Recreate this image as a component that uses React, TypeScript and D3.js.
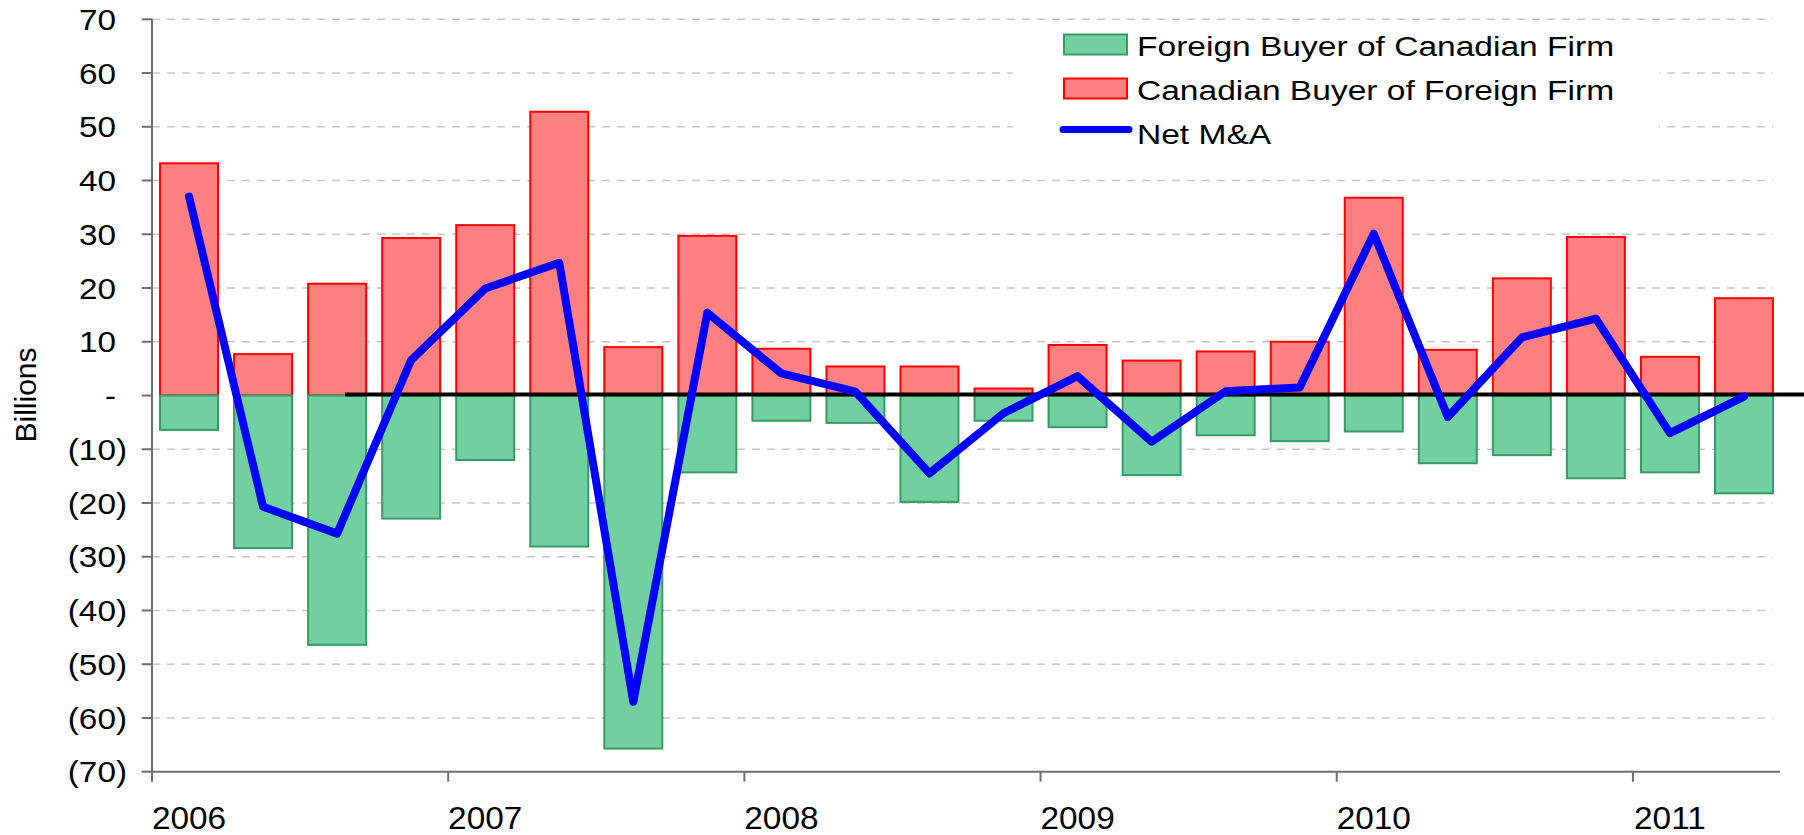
import * as d3 from 'd3';

// quarterly data, 2006Q1 - 2011Q2 (billions)
const quarters = [
  '2006Q1', '2006Q2', '2006Q3', '2006Q4',
  '2007Q1', '2007Q2', '2007Q3', '2007Q4',
  '2008Q1', '2008Q2', '2008Q3', '2008Q4',
  '2009Q1', '2009Q2', '2009Q3', '2009Q4',
  '2010Q1', '2010Q2', '2010Q3', '2010Q4',
  '2011Q1', '2011Q2',
];
const years = ['2006', '2007', '2008', '2009', '2010', '2011'];

const canadianBuyer = [43.2, 7.7, 20.8, 29.3, 31.7, 52.8, 9.0, 29.7, 8.7, 5.4, 5.4, 1.3, 9.4, 6.5, 8.2, 10.0, 36.8, 8.5, 21.8, 29.5, 7.2, 18.1];
const foreignBuyer = [-6.4, -28.4, -46.4, -22.9, -12.0, -28.1, -65.7, -14.3, -4.7, -5.1, -19.8, -4.7, -5.9, -14.8, -7.4, -8.5, -6.7, -12.6, -11.1, -15.4, -14.3, -18.2];
const netMA = [37.0, -20.7, -25.7, 6.6, 19.9, 24.7, -57.0, 15.4, 4.1, 0.7, -14.5, -3.3, 3.6, -8.6, 0.8, 1.5, 30.1, -4.0, 10.8, 14.3, -7.0, -0.2];

const yTicks = [70, 60, 50, 40, 30, 20, 10, 0, -10, -20, -30, -40, -50, -60, -70];

const legendItems = [
  { label: 'Foreign Buyer of Canadian Firm', kind: 'green' },
  { label: 'Canadian Buyer of Foreign Firm', kind: 'red' },
  { label: 'Net M&A', kind: 'line' },
];

const W = 1804;
const H = 835;
const FONT = 'Arial, "Liberation Sans", Helvetica, sans-serif';
const GREEN = '#70d0a0';
const GREEN_EDGE = '#3a9966';
const RED = '#ff8080';
const RED_EDGE = '#ff0000';
const AXIS = '#6e6e6e';

const fmt = (v: number) => (v === 0 ? '-' : v < 0 ? `(${-v})` : String(v));

export default function App() {
  const left = 152;
  const right = 1781;
  const top = 19.3;
  const bottom = 771.7;

  const x = d3.scaleBand<string>()
    .domain(quarters)
    .range([left, right])
    .paddingInner(0.19)
    .paddingOuter(0.095);
  const bw = x.bandwidth();
  const edge = (q: string) => (x(q) as number) - 0.095 * x.step();
  const cx = (i: number) => (x(quarters[i]) as number) + bw / 2;

  const y = d3.scaleLinear().domain([-70, 70]).range([bottom, top]);

  const line = d3.line<number>()
    .x((_, i) => cx(i))
    .y(d => y(d));

  return (
    <div>
      <style>{'body{margin:0}'}</style>
      <svg width={W} height={H} style={{ display: 'block', background: '#fff' }} fontFamily={FONT}>
        {/* gridlines */}
        {yTicks.filter(v => v !== 0 && v !== -70).map(v => (
          <line key={v} x1={left} x2={1773} y1={y(v)} y2={y(v)}
            stroke="#c8c8c8" strokeWidth={1.5} strokeDasharray="8 7" />
        ))}

        {/* legend background */}
        <rect x={1013} y={24} width={646} height={134} fill="#fff" />

        {/* bars */}
        {quarters.map((q, i) => (
          <g key={q}>
            <rect x={(x(q) as number) + 1} y={y(canadianBuyer[i])} width={bw - 2}
              height={y(0) - y(canadianBuyer[i])} fill={RED} stroke={RED_EDGE} strokeWidth={2} />
            <rect x={(x(q) as number) + 1} y={y(0)} width={bw - 2}
              height={y(foreignBuyer[i]) - y(0)} fill={GREEN} stroke={GREEN_EDGE} strokeWidth={2} />
          </g>
        ))}

        {/* zero reference line */}
        <line x1={cx(2) + 8} x2={W} y1={y(0) - 1} y2={y(0) - 1} stroke="#000" strokeWidth={4} />

        {/* net line */}
        <path d={line(netMA) ?? ''} fill="none" stroke="#0000ff" strokeWidth={8}
          strokeLinejoin="round" strokeLinecap="round" />

        {/* y axis */}
        <line x1={left} x2={left} y1={top} y2={bottom + 10} stroke={AXIS} strokeWidth={2} />
        {yTicks.map(v => (
          <g key={v}>
            <line x1={141.7} x2={left} y1={y(v)} y2={y(v)} stroke={AXIS} strokeWidth={2} />
            <text transform={`translate(${v < 0 ? 127 : 116},${y(v) + 10.7}) scale(1.11,1)`}
              textAnchor="end" fontSize={30} fill="#000">{fmt(v)}</text>
          </g>
        ))}
        <text transform={`translate(36,395) rotate(-90)`} textAnchor="middle" fontSize={30} fill="#000">Billions</text>

        {/* x axis */}
        <line x1={left} x2={1780} y1={bottom} y2={bottom} stroke={AXIS} strokeWidth={2} />
        {years.map((yr, k) => {
          const q = quarters[k * 4];
          return (
            <g key={yr}>
              <line x1={edge(q)} x2={edge(q)} y1={bottom} y2={bottom + 10} stroke={AXIS} strokeWidth={2} />
              <text transform={`translate(${cx(k * 4)},829) scale(1.06,1)`} textAnchor="middle"
                fontSize={31.5} fill="#000">{yr}</text>
            </g>
          );
        })}

        {/* legend */}
        {legendItems.map((it, i) => {
          const cy = 44.5 + i * 44;
          return (
            <g key={it.label}>
              {it.kind === 'line' ? (
                <line x1={1063} x2={1129} y1={cy - 3} y2={cy - 3} stroke="#0000ff" strokeWidth={7} strokeLinecap="round" />
              ) : (
                <rect x={1064} y={cy - 10} width={63} height={20}
                  fill={it.kind === 'green' ? GREEN : RED}
                  stroke={it.kind === 'green' ? GREEN_EDGE : RED_EDGE} strokeWidth={2} />
              )}
              <text transform={`translate(1137,${cy + 11.2}) scale(1.22,1)`} fontSize={27.5} fill="#000">{it.label}</text>
            </g>
          );
        })}
      </svg>
    </div>
  );
}
